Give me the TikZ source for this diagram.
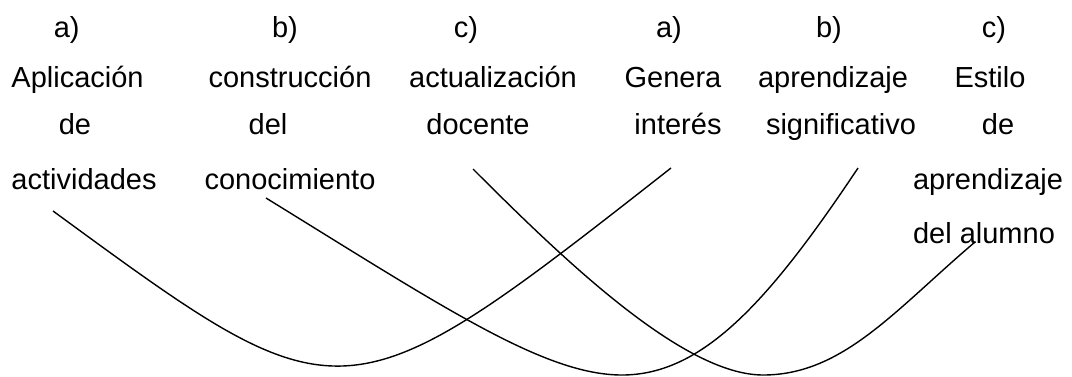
\documentclass[tikz,border=0pt]{standalone}
\usepackage{fontspec}
\setmainfont{Liberation Sans}
\begin{document}
\begin{tikzpicture}[x=1pt,y=-1pt,
  lbl/.style={anchor=base,inner sep=0pt,font=\fontsize{29}{35}\selectfont},
  link/.style={line width=1.4pt,black}]
\useasboundingbox (0,0) rectangle (1072,376);
% row 1
\node[lbl] (la) at (66.7,37) {a)};
\node[lbl] (lb) at (285,37) {b)};
\node[lbl] (lc) at (466,37) {c)};
\node[lbl] (ra) at (669,37) {a)};
\node[lbl] (rb) at (829,37) {b)};
\node[lbl] (rc) at (994,37) {c)};
% row 2
\node[lbl] (l1a) at (77.5,87) {Aplicación};
\node[lbl] (l2a) at (290,87) {construcción};
\node[lbl] (l3a) at (493,87) {actualización};
\node[lbl] (r1a) at (673,87) {Genera};
\node[lbl] (r2a) at (833,87) {aprendizaje};
\node[lbl] (r3a) at (990,87) {Estilo};
% row 3
\node[lbl] (l1b) at (75,134) {de};
\node[lbl] (l2b) at (268,134) {del};
\node[lbl] (l3b) at (478,134) {docente};
\node[lbl] (r1b) at (678,134) {interés};
\node[lbl] (r2b) at (841,134) {significativo};
\node[lbl] (r3b) at (998,134) {de};
% row 4
\node[lbl] (l1c) at (84,189) {actividades};
\node[lbl] (l2c) at (290,189) {conocimiento};
\node[lbl] (r3c) at (988,189) {aprendizaje};
% row 5
\node[lbl] (r3d) at (984,243) {del alumno};
% connector ends
\coordinate (a1) at (53,211);
\coordinate (a2) at (671,168);
\coordinate (b1) at (266,198);
\coordinate (bm) at (622,375);
\coordinate (b2) at (858,168);
\coordinate (c1) at (473,169);
\coordinate (cm) at (763,375);
\coordinate (c2) at (975,242);
\draw[link] (a1) .. controls (343,423) and (342,426) .. (a2);
\draw[link] (b1) .. controls (446,309) and (545,375) .. (bm)
  .. controls (702,375) and (768,303) .. (b2);
\draw[link] (c1) .. controls (563,259) and (683,375) .. (cm)
  .. controls (843,375) and (895,310) .. (c2);
\end{tikzpicture}
\end{document}
